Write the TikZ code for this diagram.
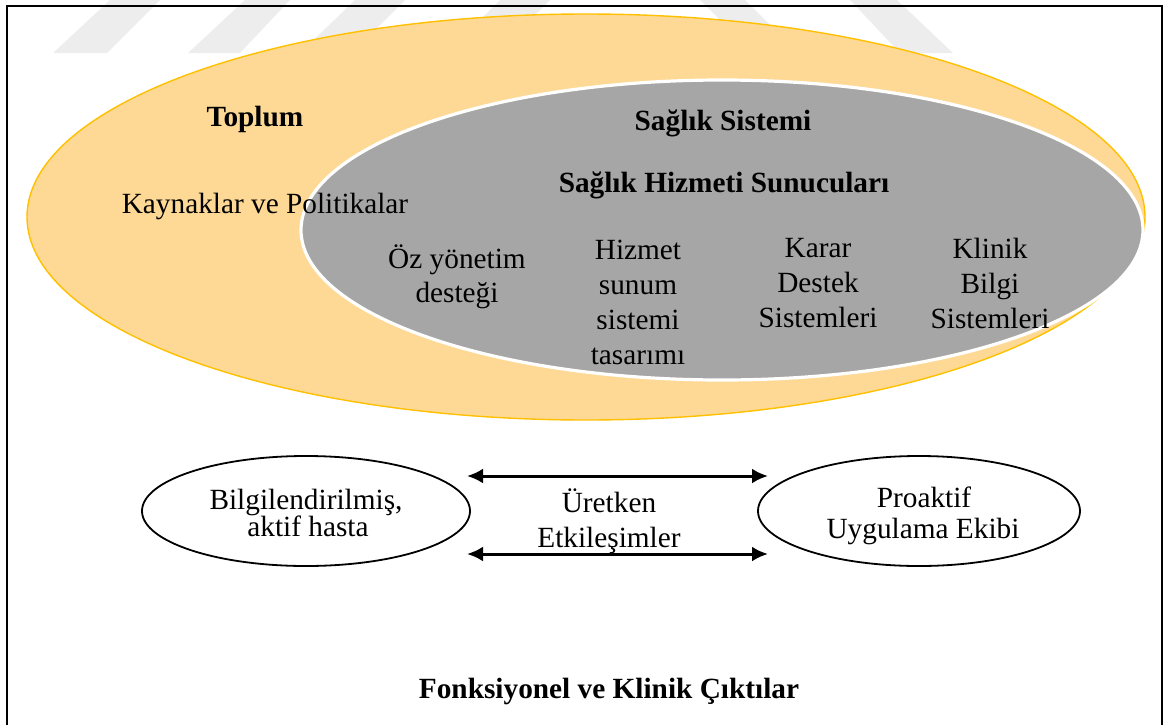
\documentclass[tikz,border=0pt]{standalone}
\usepackage{fontspec}
\setmainfont{Liberation Serif}
\usetikzlibrary{shapes.geometric,arrows.meta}
\definecolor{orfill}{RGB}{254,217,150}
\definecolor{orline}{RGB}{255,192,0}
\definecolor{grfill}{RGB}{166,166,166}
\definecolor{wm}{RGB}{237,237,237}
\tikzset{
  lbl/.style={anchor=base, inner sep=0pt, font=\fontsize{14.65}{17}\selectfont},
  blbl/.style={anchor=base, inner sep=0pt, font=\fontsize{14.65}{17}\selectfont\bfseries},
  ov/.style={ellipse, draw=black, line width=0.9pt, inner sep=0pt, outer sep=0pt},
  dbl/.style={{Latex[length=8pt,width=7.5pt]}-{Latex[length=8pt,width=7.5pt]}, line width=1.5pt},
  wmark/.style={fill=wm, draw=none},
  frame/.style={line width=1pt, draw=black}
}
\begin{document}
\begin{tikzpicture}[x=0.5pt,y=-0.5pt]
\useasboundingbox (0,0) rectangle (1169,724);
% watermark
\fill[wmark] (53,53) -- (107,53) -- (160,0) -- (110,0) -- cycle;
\fill[wmark] (188,53) -- (240,53) -- (290,0) -- (245,0) -- cycle;
\fill[wmark] (300,53) -- (352,53) -- (405,0) -- (355,0) -- cycle;
\fill[wmark] (447,53) -- (497,53) -- (550,0) -- (500,0) -- cycle;
\fill[wmark] (700,0) -- (745,0) -- (798,53) -- (753,53) -- cycle;
\fill[wmark] (850,0) -- (897,0) -- (953,53) -- (900,53) -- cycle;
% frame
\draw[frame] (7,740) -- (7,6) -- (1162,6) -- (1162,740);
% ellipses
\node[ellipse, fill=orfill, draw=orline, line width=0.7pt, minimum width=559pt, minimum height=203pt, inner sep=0pt] (toplum) at (586,217) {};
\node[ellipse, fill=grfill, draw=white, line width=1.6pt, minimum width=421pt, minimum height=150pt, inner sep=0pt] (saglik) at (722,230) {};
% top texts
\node[blbl] (tToplum) at (255,126) {Toplum};
\node[lbl] (tKay) at (265,213) {Kaynaklar ve Politikalar};
\node[blbl] (tSS) at (723,130) {Sağlık Sistemi};
\node[blbl] (tSHS) at (724,192) {Sağlık Hizmeti Sunucuları};
\node[lbl] (oz1) at (457,268) {Öz yönetim};
\node[lbl] (oz2) at (457,302) {desteği};
\node[lbl] (hz1) at (638,259) {Hizmet};
\node[lbl] (hz2) at (638,294) {sunum};
\node[lbl] (hz3) at (638,329) {sistemi};
\node[lbl] (hz4) at (638,364) {tasarımı};
\node[lbl] (kd1) at (818,257) {Karar};
\node[lbl] (kd2) at (818,292) {Destek};
\node[lbl] (kd3) at (818,327) {Sistemleri};
\node[lbl] (kb1) at (990,258) {Klinik};
\node[lbl] (kb2) at (990,293) {Bilgi};
\node[lbl] (kb3) at (990,328) {Sistemleri};
% bottom
\node[ov, minimum width=164pt, minimum height=55pt] (hasta) at (306,511) {};
\node[ov, minimum width=161pt, minimum height=55pt] (ekip) at (919,511) {};
\node[lbl] (h1) at (306,509) {Bilgilendirilmiş,};
\node[lbl] (h2) at (308,536) {aktif hasta};
\node[lbl] (e1) at (924,507) {Proaktif};
\node[lbl] (e2) at (923,538) {Uygulama Ekibi};
\node[lbl] (u1) at (609,512) {Üretken};
\node[lbl] (u2) at (609,547) {Etkileşimler};
\coordinate (a1) at (467,476);
\coordinate (a2) at (768,476);
\coordinate (b1) at (467,554);
\coordinate (b2) at (768,554);
\draw[dbl] (a1) -- (a2);
\draw[dbl] (b1) -- (b2);
\node[blbl] (cikti) at (609,698) {Fonksiyonel ve Klinik Çıktılar};
\end{tikzpicture}
\end{document}
